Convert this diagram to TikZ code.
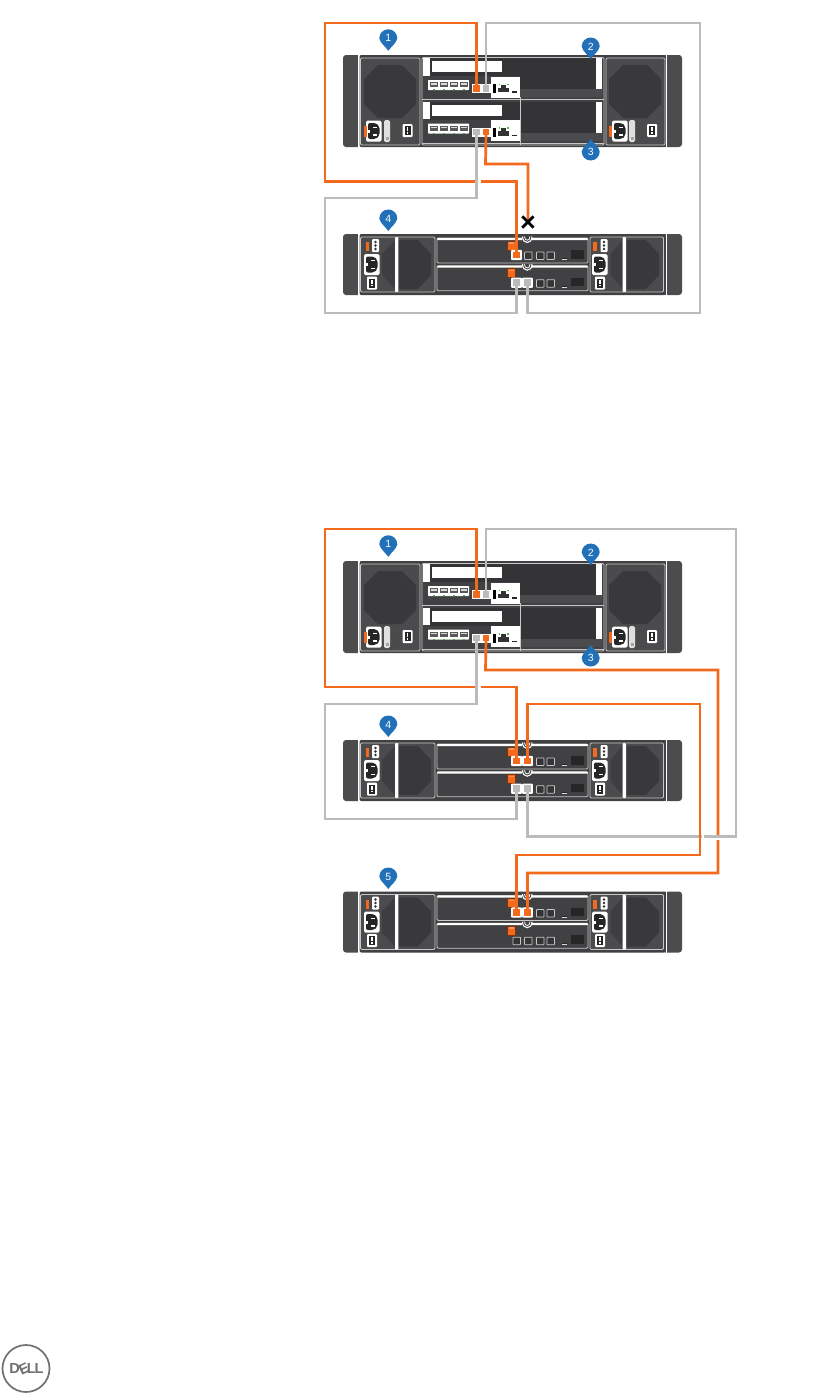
\documentclass[tikz,border=0pt]{standalone}
\usepackage{fontspec}
\setmainfont{Liberation Sans}
\usetikzlibrary{calc}
\definecolor{cabor}{HTML}{F36A1C}
\definecolor{cabgr}{HTML}{BBBBBB}
\definecolor{body}{HTML}{414143}
\definecolor{ear}{HTML}{4C4C4E}
\definecolor{panel}{HTML}{4B4B4D}
\definecolor{dark}{HTML}{343436}
\definecolor{octo}{HTML}{39393B}
\definecolor{edge}{HTML}{C8C8C8}
\definecolor{markblue}{HTML}{2270B8}
\definecolor{logo}{HTML}{6F7073}
\tikzset{
  gapline/.style={draw=white,line width=2.6pt},
  orangecable/.style={draw=cabor,line width=2.7pt,line join=miter},
  graycable/.style={draw=cabgr,line width=2.6pt,line join=miter},
  outl/.style={draw=edge,line width=.9pt,rounded corners=1.2pt},
  whitebit/.style={fill=white,draw=none},
  portnode/.style={draw=none,minimum size=7pt,inner sep=0pt,outer sep=0pt},
  openport/.style={draw=edge,line width=.8pt,fill=dark,rounded corners=.6pt},
  pinlabel/.style={text=white,font=\fontsize{10.5}{12}\selectfont,inner sep=0pt},
}
% teardrop marker: #1 centre x, #2 centre y, #3 +1 tip below / -1 tip above, #4 name, #5 text
\newcommand{\pinmark}[5]{%
  \fill[markblue] (#1-9,#2) .. controls (#1-9,#2-#3*5) and (#1-5,#2-#3*9) .. (#1,#2-#3*9)
     .. controls (#1+5,#2-#3*9) and (#1+9,#2-#3*5) .. (#1+9,#2)
     .. controls (#1+8,#2+#3*5) and (#1+3,#2+#3*8) .. (#1,#2+#3*12.5)
     .. controls (#1-3,#2+#3*8) and (#1-8,#2+#3*5) .. (#1-9,#2) -- cycle;
  \node[pinlabel] (#4) at (#1,#2) {#5};
}
\newcommand{\socket}[2]{% left x, top y
  \fill[white,rounded corners=1.5pt] (#1,#2) rectangle (#1+15.5,#2+21);
  \fill[black!85,rounded corners=2pt] (#1+2,#2+2.5) -- (#1+10,#2+2.5) -- (#1+13.5,#2+6) -- (#1+13.5,#2+15) -- (#1+10,#2+18.5) -- (#1+2,#2+18.5) -- cycle;
  \fill[white] (#1+7,#2+6) rectangle (#1+11,#2+7.2);
  \fill[white] (#1+7,#2+13.8) rectangle (#1+11,#2+15);
  \fill[white] (#1+2,#2+9) rectangle (#1+3.5,#2+12);
}
\newcommand{\octagon}[4]{% x1 y1 x2 y2
  \fill[octo] (#1+14,#2) -- (#3-14,#2) -- (#3,#2+14) -- (#3,#4-14) -- (#3-14,#4) -- (#1+14,#4) -- (#1,#4-14) -- (#1,#2+14) -- cycle;
}
\newcommand{\swbox}[2]{%
  \fill[white,rounded corners=1pt] (#1,#2) rectangle (#1+10,#2+13);
  \fill[black!85] (#1+2,#2+2) rectangle (#1+8,#2+11);
  \fill[white] (#1+4.2,#2+3) rectangle (#1+5.8,#2+7);
  \fill[white] (#1+4.2,#2+8.2) rectangle (#1+5.8,#2+9.8);
}
\newcommand{\chassis}[2]{% y top, y bottom
  \fill[ear,rounded corners=3pt] (343,#1) rectangle (362,#2);
  \fill[ear,rounded corners=3pt] (662,#1) rectangle (682,#2);
  \fill[white] (358,#1-.5) rectangle (359.5,#2+.5);
  \fill[white] (665.5,#1-.5) rectangle (667,#2+.5);
  \fill[body,rounded corners=2pt] (359.5,#1) rectangle (665.5,#2);
}
% controller module
\newcommand{\ctrlmodule}[4]{% #1 dy, #2 bottom of outline, #3 name a, #4 name b
  \begin{scope}[yshift=-#1 pt]
    \fill[dark] (430,58) rectangle (596,89);
    \fill[body] (428,76) rectangle (520,97);
    \fill[panel] (520,89) rectangle (602,97);
    \fill[whitebit] (422.5,58) rectangle (430,75.5);
    \fill[whitebit] (432,61) rectangle (502,72);
    \fill[whitebit] (595.5,58) rectangle (602,89);
    \fill[white,rounded corners=.6pt] (428,80) rectangle (469,90);
    \foreach \q in {430,440,450,460}{
      \fill[gray!70!black] (\q,82) rectangle (\q+8,87);
      \fill[gray!30] (\q+.8,83) rectangle (\q+7.2,84.5);
      \fill[green!60!black!70] (\q+3,89) rectangle (\q+5,90);
    }
    \fill[white] (472,84) rectangle (491.5,93);
    \fill[white] (491,76.5) rectangle (520,97.5);
    \fill[black] (492.5,84) rectangle (495.5,93);
    \fill[black!80] (498,87.5) rectangle (509,92);
    \fill[black!80] (501,84.5) rectangle (506,88);
    \fill[green!60!black!70] (498.5,83.5) rectangle (500,85);
    \fill[green!60!black!70] (507,83.5) rectangle (508.5,85);
    \fill[black!85] (512,91) rectangle (517,92.5);
    \node[portnode] (#3) at (476.7,88.5) {};
    \node[portnode] (#4) at (486,88.5) {};
  \end{scope}
}
% complete controller enclosure
\newcommand{\controller}[2]{% #1 dy, #2 port prefix
  \begin{scope}[yshift=-#1 pt]
    \chassis{55}{147}
    \fill[panel] (360.5,58) rectangle (420,145);
    \draw[outl] (360.5,58) rectangle (420,145);
    \octagon{364}{65}{416}{118}
    \socket{366}{120.5}
    \fill[cabor] (364,126) rectangle (366.8,137);
    \fill[gray!25,rounded corners=1.5pt] (384,120) rectangle (390,142);
    \fill[gray!70] (385.5,137) rectangle (388.5,140);
    \swbox{402.5}{124}
    \fill[panel] (606,58) rectangle (665,145);
    \draw[outl] (606,58) rectangle (665,145);
    \octagon{609}{65}{661}{118}
    \socket{612}{120.5}
    \fill[cabor] (608.5,126) rectangle (612,137);
    \fill[gray!25,rounded corners=1.5pt] (629,120) rectangle (635,142);
    \fill[gray!70] (630.5,137) rectangle (633.5,140);
    \swbox{647}{124}
    \draw[outl] (422,57.5) rectangle (604,145);
    \ctrlmodule{0}{99}{#2a}{#2b}
    \ctrlmodule{43.5}{145}{#2c}{#2d}
    \draw[edge,line width=1pt] (422,99.3) -- (604,99.3);
    \draw[edge,line width=1pt] (422,143.5) -- (604,143.5);
    \fill[edge] (519.5,97) rectangle (520.3,145);
  \end{scope}
}
\newcommand{\psuL}{%
  \fill[panel] (360.5,237) rectangle (435,292);
  \draw[outl] (360.5,237) rectangle (435,292);
  \fill[octo!70!panel] (382,254) -- (395,240) -- (395,289) -- (382,275) -- cycle;
  \fill[octo] (398,240) -- (418,240) -- (431,254) -- (431,275) -- (418,289) -- (398,289) -- cycle;
  \fill[white,rounded corners=1pt] (395,237) rectangle (398.3,292);
  \fill[cabor] (365.5,242) rectangle (369,251);
  \fill[white,rounded corners=1pt] (372,239) rectangle (379,252);
  \foreach \q in {242,245.5,249}{\fill[black!80] (375.5,\q) circle[radius=1.3pt];}
  \socket{364}{254}
  \swbox{367}{276.5}
}
\newcommand{\psuR}{%
  \fill[panel] (590,237) rectangle (663.5,292);
  \draw[outl] (590,237) rectangle (663.5,292);
  \fill[octo!70!panel] (610.5,254) -- (622.7,240) -- (622.7,289) -- (610.5,275) -- cycle;
  \fill[octo] (626,240) -- (646,240) -- (659,254) -- (659,275) -- (646,289) -- (626,289) -- cycle;
  \fill[white,rounded corners=1pt] (622.7,237) rectangle (626,292);
  \fill[cabor] (592.7,242) rectangle (596.5,251);
  \fill[white,rounded corners=1pt] (600.5,239) rectangle (607.5,252);
  \foreach \q in {242,245.5,249}{\fill[black!80] (604,\q) circle[radius=1.3pt];}
  \socket{592}{254}
  \swbox{595}{276.5}
}
\newcommand{\smallport}[1]{\draw[openport] (#1,0) rectangle (#1+7.5,7.5);}
\newcommand{\expmodule}[4]{% dy, name 1, name 2, code for the first two slots
  \begin{scope}[yshift=-#1 pt]
    \draw[outl,fill=body] (437,238) rectangle (588,263);
    \fill[white,rounded corners=.8pt] (437,238) rectangle (588,240);
    \fill[body] (522,237) rectangle (532,241);
    \draw[white,line width=1.1pt] (522.5,236.5) .. controls (522.5,244.5) and (532,244.5) .. (532,236.5);
    \draw[white,line width=.8pt] (524.5,236.5) .. controls (524.5,241.5) and (530,241.5) .. (530,236.5);
    \fill[cabor] (507.7,241) rectangle (515.5,250);
    \draw[black!50!cabor,line width=.5pt] (507.7,241) rectangle (515.5,250);
    \fill[cabor!70!white] (509,242) rectangle (514,243.5);
    \node[portnode] (#2) at (516.5,255) {};
    \node[portnode] (#3) at (527.5,255) {};
    \begin{scope}[shift={(0,252)}]
      #4
      \smallport{536.5}
      \smallport{547}
    \end{scope}
    \fill[gray!30] (562,258) rectangle (567,260);
    \fill[black!85] (562,258) rectangle (567,258.7);
    \fill[black!85] (571,250) rectangle (584,258.5);
  \end{scope}
}
\newcommand{\expansion}[7]{% dy, names (4), slot code for both modules
  \begin{scope}[yshift=-#1 pt]
    \chassis{234}{295}
    \psuL
    \psuR
    \expmodule{0}{#2}{#3}{#6}
    \expmodule{27.7}{#4}{#5}{#7}
  \end{scope}
}
\newcommand{\activeport}[2]{% node name, colour
  \fill[white,rounded corners=.8pt] ($(#1)+(-5.3,-5.2)$) rectangle ($(#1)+(5.3,5.2)$);
  \fill[#2] ($(#1)+(-3.3,-3.3)$) rectangle ($(#1)+(3.3,3.3)$);
}
\newcommand{\plainport}[2]{\fill[#2] ($(#1)+(-3.3,-3.3)$) rectangle ($(#1)+(3.3,3.3)$);}
\begin{document}
\begin{tikzpicture}[x=1pt,y=-1pt]
\useasboundingbox (0,0) rectangle (833,1393);
\fill[white] (0,0) rectangle (833,1393);

%% ---------- first diagram ----------
\controller{0}{p}
\expansion{0}{pe}{pf}{pg}{ph}{\smallport{513}\smallport{524.5}}{\smallport{513}\smallport{524.5}}
\coordinate (wa1) at (476.7,23);
\coordinate (wa2) at (325,23);
\coordinate (wa3) at (325,181.5);
\coordinate (wa4) at (516.5,181.5);
\coordinate (wb1) at (486,23);
\coordinate (wb2) at (700,23);
\coordinate (wb3) at (700,313);
\coordinate (wb4) at (527.5,313);
\coordinate (wc1) at (476.7,198);
\coordinate (wc2) at (325,198);
\coordinate (wc3) at (325,313);
\coordinate (wc4) at (516.5,313);
\coordinate (wd1) at (485.5,164);
\coordinate (wd2) at (528,164);
\coordinate (wd3) at (528,223);
\activeport{pe}{cabor}
\activeport{pg}{cabgr}
\activeport{ph}{cabgr}
\plainport{pa}{cabor}
\plainport{pb}{cabgr}
\plainport{pc}{cabgr}
\plainport{pd}{cabor}
\draw[graycable] (pb.center) -- (wb1) -- (wb2) -- (wb3) -- (wb4) -- (ph.center);
\draw[orangecable] (pa.center) -- (wa1) -- (wa2) -- (wa3) -- (wa4) -- (pe.center);
\draw[orangecable] (pd.center) -- (wd1) -- (wd2) -- (wd3);
\draw[gapline] (479.4,178) -- (479.4,185);
\draw[graycable] (pc.center) -- (wc1) -- (wc2) -- (wc3) -- (wc4) -- (pg.center);
\node[text=black,font=\bfseries\fontsize{27}{27}\selectfont,inner sep=0pt] (xmark) at (528,223.5) {×};
\pinmark{388.3}{38.3}{1}{m1}{1}
\pinmark{590.7}{46.5}{1}{m2}{2}
\pinmark{590.7}{151.5}{-1}{m3}{3}
\pinmark{388.3}{218.5}{1}{m4}{4}

%% ---------- second diagram ----------
\controller{506}{q}
\expansion{506}{qe}{qf}{qg}{qh}{}{}
\expansion{657.5}{re}{rf}{rg}{rh}{}{\smallport{513}\smallport{524.5}}
\coordinate (xa1) at (476.7,529);
\coordinate (xa2) at (325,529);
\coordinate (xa3) at (325,687);
\coordinate (xa4) at (516.5,687);
\coordinate (xb1) at (486,529);
\coordinate (xb2) at (736,529);
\coordinate (xb3) at (736,836.5);
\coordinate (xb4) at (527.5,836.5);
\coordinate (xb5) at (705,836.5);
\coordinate (xc1) at (476.7,704);
\coordinate (xc2) at (325,704);
\coordinate (xc3) at (325,819);
\coordinate (xc4) at (516.5,819);
\coordinate (xe1) at (485.5,670);
\coordinate (xe2) at (718,670);
\coordinate (xe3) at (718,873);
\coordinate (xe4) at (527.5,873);
\coordinate (xf1) at (527.5,704);
\coordinate (xf2) at (700,704);
\coordinate (xf3) at (700,855);
\coordinate (xf4) at (516.5,855);
\activeport{qe}{cabor}
\activeport{qf}{cabor}
\activeport{qg}{cabgr}
\activeport{qh}{cabgr}
\activeport{re}{cabor}
\activeport{rf}{cabor}
\plainport{qa}{cabor}
\plainport{qb}{cabgr}
\plainport{qc}{cabgr}
\plainport{qd}{cabor}
\draw[graycable] (qb.center) -- (xb1) -- (xb2) -- (xb3) -- (xb4) -- (qh.center);
\draw[gapline] (702.8,834) -- (702.8,839);
\draw[orangecable] (qa.center) -- (xa1) -- (xa2) -- (xa3) -- (xa4) -- (qe.center);
\draw[orangecable] (qf.center) -- (xf1) -- (xf2) -- (xf3) -- (xf4) -- (re.center);
\draw[orangecable] (qd.center) -- (xe1) -- (xe2) -- (xe3) -- (xe4) -- (rf.center);
\draw[gapline] (714,839) -- (722,839);
\draw[graycable] (xb3) -- (xb5);
\draw[gapline] (479.4,683.5) -- (479.4,690.5);
\draw[graycable] (qc.center) -- (xc1) -- (xc2) -- (xc3) -- (xc4) -- (qg.center);
\pinmark{388.3}{544.3}{1}{n1}{1}
\pinmark{590.7}{552.5}{1}{n2}{2}
\pinmark{590.7}{657.5}{-1}{n3}{3}
\pinmark{388.3}{724.5}{1}{n4}{4}
\pinmark{388.3}{876.5}{1}{n5}{5}

%% ---------- logo ----------
\draw[logo,line width=1.7pt] (26,1368.5) circle[radius=23.5pt];
\node[text=logo,font=\bfseries\fontsize{14.5}{15}\selectfont,inner sep=0pt] (ld) at (14.6,1368.5) {D};
\node[text=logo,font=\bfseries\fontsize{14.5}{15}\selectfont,inner sep=0pt,rotate=25] (le) at (23.8,1368.5) {E};
\node[text=logo,font=\bfseries\fontsize{14.5}{15}\selectfont,inner sep=0pt] (ll) at (31.3,1368.5) {L};
\node[text=logo,font=\bfseries\fontsize{14.5}{15}\selectfont,inner sep=0pt] (lm) at (39,1368.5) {L};
\end{tikzpicture}
\end{document}
